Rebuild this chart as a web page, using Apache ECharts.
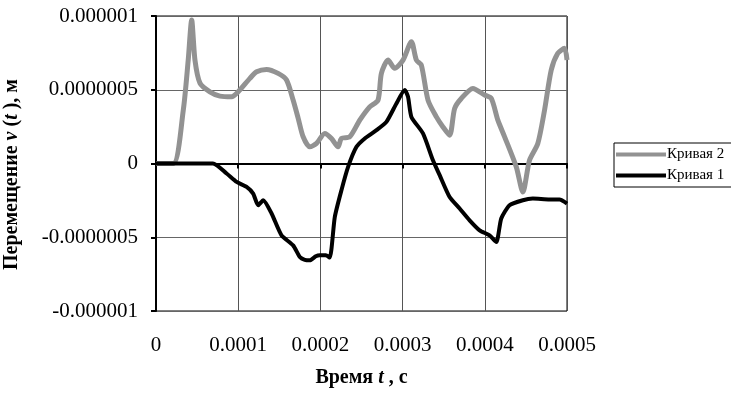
<!DOCTYPE html>
<html>
<head>
<meta charset="utf-8">
<script src="https://cdn.jsdelivr.net/npm/echarts@6/dist/echarts.min.js"></script>
<style>html,body{margin:0;padding:0;background:#fff;}#c{width:731px;height:395px;}</style>
</head>
<body>
<div id="c"></div>
<script>
// Time values (s)
var t2 = [0, 0.21e-4, 0.332e-4, 0.392e-4, 0.434e-4, 0.474e-4, 0.535e-4, 0.656e-4, 0.778e-4, 0.920e-4,
  1.000e-4, 1.142e-4, 1.224e-4, 1.345e-4, 1.486e-4, 1.588e-4, 1.668e-4, 1.729e-4, 1.790e-4, 1.871e-4,
  1.953e-4, 2.053e-4, 2.135e-4, 2.215e-4, 2.256e-4, 2.357e-4, 2.479e-4, 2.600e-4, 2.701e-4, 2.742e-4,
  2.823e-4, 2.904e-4, 3.005e-4, 3.107e-4, 3.168e-4, 3.228e-4, 3.309e-4, 3.411e-4, 3.491e-4, 3.572e-4,
  3.633e-4, 3.714e-4, 3.855e-4, 3.998e-4, 4.079e-4, 4.159e-4, 4.241e-4, 4.383e-4, 4.463e-4, 4.544e-4,
  4.645e-4, 4.727e-4, 4.808e-4, 4.888e-4, 4.970e-4, 5.000e-4];
// Кривая 2 displacement (m)
var v2 = [0, 0, 0.362e-6, 0.701e-6, 0.973e-6, 0.701e-6, 0.545e-6, 0.486e-6, 0.457e-6, 0.452e-6,
  0.486e-6, 0.577e-6, 0.622e-6, 0.638e-6, 0.611e-6, 0.566e-6, 0.430e-6, 0.308e-6, 0.181e-6, 0.113e-6,
  0.136e-6, 0.204e-6, 0.170e-6, 0.113e-6, 0.170e-6, 0.181e-6, 0.294e-6, 0.384e-6, 0.430e-6, 0.611e-6,
  0.701e-6, 0.645e-6, 0.701e-6, 0.826e-6, 0.701e-6, 0.667e-6, 0.430e-6, 0.316e-6, 0.248e-6, 0.192e-6,
  0.373e-6, 0.441e-6, 0.509e-6, 0.464e-6, 0.441e-6, 0.294e-6, 0.181e-6, -0.023e-6, -0.193e-6, 0.022e-6,
  0.136e-6, 0.362e-6, 0.633e-6, 0.747e-6, 0.781e-6, 0.701e-6];

var t1 = [0, 0.693e-4, 0.859e-4, 0.981e-4, 1.102e-4, 1.182e-4, 1.243e-4, 1.304e-4, 1.406e-4, 1.527e-4,
  1.668e-4, 1.750e-4, 1.810e-4, 1.871e-4, 1.944e-4, 1.993e-4, 2.066e-4, 2.114e-4, 2.175e-4, 2.256e-4,
  2.337e-4, 2.439e-4, 2.540e-4, 2.682e-4, 2.803e-4, 2.925e-4, 3.026e-4, 3.066e-4, 3.107e-4, 3.248e-4,
  3.369e-4, 3.451e-4, 3.572e-4, 3.694e-4, 3.815e-4, 3.937e-4, 4.058e-4, 4.140e-4, 4.200e-4, 4.301e-4,
  4.463e-4, 4.584e-4, 4.787e-4, 4.909e-4, 5.000e-4];
// Кривая 1 displacement (m)
var v1 = [0, 0, -0.068e-6, -0.125e-6, -0.159e-6, -0.204e-6, -0.283e-6, -0.249e-6, -0.339e-6, -0.487e-6,
  -0.555e-6, -0.634e-6, -0.653e-6, -0.656e-6, -0.629e-6, -0.622e-6, -0.622e-6, -0.638e-6, -0.363e-6, -0.181e-6,
  -0.023e-6, 0.113e-6, 0.170e-6, 0.226e-6, 0.282e-6, 0.407e-6, 0.498e-6, 0.452e-6, 0.316e-6, 0.204e-6,
  0.022e-6, -0.079e-6, -0.227e-6, -0.305e-6, -0.385e-6, -0.453e-6, -0.487e-6, -0.532e-6, -0.373e-6, -0.283e-6,
  -0.249e-6, -0.238e-6, -0.244e-6, -0.244e-6, -0.272e-6];

var xTickLabels = ['0', '0.0001', '0.0002', '0.0003', '0.0004', '0.0005'];
var yTickLabels = ['-0.000001', '-0.0000005', '0', '0.0000005', '0.000001'];
var seriesNames = ['Кривая 2', 'Кривая 1'];

function zip(a, b) { var r = []; for (var i = 0; i < a.length; i++) r.push([a[i], b[i]]); return r; }

var FONT = 'Liberation Serif';
var chart = echarts.init(document.getElementById('c'), null, {renderer: 'canvas'});
chart.setOption({
  animation: false,
  backgroundColor: '#fff',
  grid: {left: 156, right: 164, top: 16, bottom: 84, show: true, borderColor: '#000', borderWidth: 1,
    containLabel: false, outerBoundsMode: 'none'},
  xAxis: {
    type: 'value', min: 0, max: 0.0005, interval: 0.0001,
    axisLine: {lineStyle: {color: '#000', width: 2}},
    axisTick: {show: true, length: 5, lineStyle: {color: '#000', width: 2}},
    splitLine: {show: true, lineStyle: {color: '#555', width: 1}},
    axisLabel: {
      margin: 24, color: '#000', fontFamily: FONT, fontSize: 21,
      formatter: function (v) { return xTickLabels[Math.round(v / 0.0001)]; }
    },
    name: '{b|Время }{i|t}{b| , с}', nameLocation: 'middle', nameGap: 57,
    nameTextStyle: {fontFamily: FONT, fontSize: 20, fontWeight: 'bold', color: '#000', rich: {
      b: {fontFamily: FONT, fontSize: 20, fontWeight: 'bold', color: '#000'},
      i: {fontFamily: FONT, fontSize: 20, fontWeight: 'bold', fontStyle: 'italic', color: '#000'}
    }}
  },
  yAxis: {
    type: 'value', min: -0.000001, max: 0.000001, interval: 0.0000005,
    axisLine: {show: true, lineStyle: {color: '#000', width: 2}},
    axisTick: {show: true, length: 5, lineStyle: {color: '#000', width: 2}},
    splitLine: {show: true, lineStyle: {color: '#666', width: 1}},
    axisLabel: {
      margin: 18, color: '#000', fontFamily: FONT, fontSize: 21,
      formatter: function (v) { return yTickLabels[Math.round(v / 0.0000005) + 2]; }
    },
    name: '{b|Перемещение }{i|v}{b| (}{i|t}{b| ), м}', nameLocation: 'middle', nameGap: 134, nameRotate: 90,
    nameTextStyle: {fontFamily: FONT, fontSize: 20, fontWeight: 'bold', color: '#000', align: 'center',
      padding: [0, 22, 0, 0], rich: {
      b: {fontFamily: FONT, fontSize: 20, fontWeight: 'bold', color: '#000'},
      i: {fontFamily: FONT, fontSize: 20, fontWeight: 'bold', fontStyle: 'italic', color: '#000'}
    }}
  },
  legend: {
    data: seriesNames, orient: 'vertical', left: 614, top: 143,
    icon: 'rect', itemWidth: 50, itemHeight: 4, itemGap: 6,
    padding: [4, 8, 4, 2],
    borderColor: '#000', borderWidth: 1, backgroundColor: '#fff',
    textStyle: {fontFamily: FONT, fontSize: 15, color: '#000', padding: [0, 0, 0, -4]}
  },
  series: [
    {
      name: seriesNames[0], type: 'line', data: zip(t2, v2), showSymbol: false, smooth: 0.25,
      lineStyle: {color: '#929292', width: 5}, itemStyle: {color: '#929292'}, z: 2
    },
    {
      name: seriesNames[1], type: 'line', data: zip(t1, v1), showSymbol: false, smooth: 0.2,
      lineStyle: {color: '#000', width: 4}, itemStyle: {color: '#000'}, z: 3
    }
  ]
});
</script>
</body>
</html>
